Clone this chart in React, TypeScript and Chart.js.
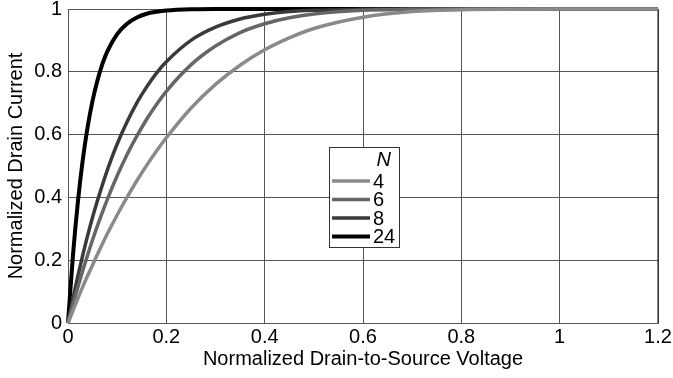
import React, { useEffect, useRef } from "react";
import { Chart, registerables } from "chart.js";

Chart.register(...registerables);

const xs = [0, 0.01, 0.02, 0.03, 0.04, 0.05, 0.06, 0.07, 0.08, 0.1, 0.12, 0.14, 0.16, 0.18, 0.2, 0.25, 0.3, 0.35, 0.4, 0.45, 0.5, 0.6, 0.7, 0.8, 1.0, 1.2];
const n4 = [0, 0.039, 0.078, 0.115, 0.151, 0.185, 0.219, 0.252, 0.284, 0.344, 0.4, 0.453, 0.502, 0.548, 0.59, 0.684, 0.76, 0.821, 0.87, 0.908, 0.938, 0.974, 0.992, 0.998, 1, 1];
const n6 = [0, 0.059, 0.114, 0.167, 0.217, 0.265, 0.31, 0.353, 0.394, 0.469, 0.536, 0.595, 0.649, 0.696, 0.738, 0.822, 0.882, 0.925, 0.953, 0.972, 0.984, 0.996, 0.999, 1, 1, 1];
const n8 = [0, 0.077, 0.149, 0.216, 0.279, 0.337, 0.39, 0.44, 0.487, 0.57, 0.64, 0.701, 0.752, 0.796, 0.832, 0.9, 0.942, 0.968, 0.983, 0.992, 0.996, 0.999, 1, 1, 1, 1];
const n24 = [0, 0.214, 0.384, 0.519, 0.625, 0.708, 0.773, 0.825, 0.865, 0.92, 0.953, 0.973, 0.985, 0.991, 0.995, 0.999, 1, 1, 1, 1, 1, 1, 1, 1, 1, 1];

const seriesLabels = ["4", "6", "8", "24"];
const seriesValues = [n4, n6, n8, n24];
const seriesColors = ["#8a8a8a", "#666666", "#3a3a3a", "#000000"];
const seriesWidths = [3.5, 3.5, 3.5, 4];

const xTitle = "Normalized Drain-to-Source Voltage";
const yTitle = "Normalized Drain Current";
const legendTitle = "N";

const FONT = "'Liberation Sans', Arial, sans-serif";
const FS = 20;

const fmt = (v: number) => String(parseFloat(Number(v).toFixed(1)));

const legendPlugin = {
  id: "customLegend",
  afterDraw(chart: any) {
    const ctx = chart.ctx;
    ctx.save();
    const bx = 329.5, by = 147.5, bw = 70, bh = 100;
    ctx.fillStyle = "#ffffff";
    ctx.fillRect(bx, by, bw, bh);
    ctx.strokeStyle = "#333333";
    ctx.lineWidth = 1;
    ctx.strokeRect(bx, by, bw, bh);
    ctx.fillStyle = "#000";
    ctx.textBaseline = "middle";
    ctx.font = `italic ${FS}px ${FONT}`;
    ctx.textAlign = "right";
    ctx.fillText(legendTitle, 391, 160);
    ctx.textAlign = "left";
    ctx.font = `${FS}px ${FONT}`;
    const rows = [181, 199.5, 218, 236.5];
    seriesLabels.forEach((lab, i) => {
      ctx.strokeStyle = seriesColors[i];
      ctx.lineWidth = seriesWidths[i];
      ctx.beginPath();
      ctx.moveTo(332, rows[i]);
      ctx.lineTo(370, rows[i]);
      ctx.stroke();
      ctx.fillStyle = "#000";
      ctx.fillText(lab, 373, rows[i] + 1);
    });
    ctx.restore();
  },
};

const borderPlugin = {
  id: "rightBorder",
  beforeDatasetsDraw(chart: any) {
    const { ctx, chartArea } = chart;
    ctx.save();
    ctx.strokeStyle = "#111";
    ctx.lineWidth = 1;
    ctx.beginPath();
    ctx.moveTo(chartArea.right, chartArea.top);
    ctx.lineTo(chartArea.right, chartArea.bottom);
    ctx.stroke();
    ctx.restore();
  },
};

export default function App() {
  const ref = useRef<HTMLCanvasElement | null>(null);
  useEffect(() => {
    document.body.style.margin = "0";
    if (!ref.current) return;
    const datasets = seriesLabels.map((lab, i) => ({
      label: lab,
      data: xs.map((x, j) => ({ x, y: seriesValues[i][j] })),
      borderColor: seriesColors[i],
      backgroundColor: seriesColors[i],
      borderWidth: seriesWidths[i],
      pointRadius: 0,
      cubicInterpolationMode: "monotone" as const,
      clip: 5,
      fill: false,
    }));
    const chart = new Chart(ref.current, {
      type: "line",
      data: { datasets },
      options: {
        animation: false,
        responsive: false,
        layout: { padding: { left: 0, right: 15, top: 9, bottom: 0 } },
        plugins: { legend: { display: false }, tooltip: { enabled: false } },
        scales: {
          x: {
            type: "linear",
            min: 0,
            max: 1.2,
            ticks: {
              stepSize: 0.2,
              color: "#000",
              font: { family: FONT, size: FS },
              padding: 2,
              maxRotation: 0,
              callback: (v: any) => fmt(v),
            },
            grid: { color: "#555", lineWidth: 1, drawTicks: false, tickLength: 0 },
            border: { color: "#555" },
            title: {
              display: true,
              text: xTitle,
              color: "#000",
              font: { family: FONT, size: FS },
              padding: { top: 0, bottom: 7 },
            },
            afterFit: (s: any) => {
              s.height = 55;
              s.paddingLeft = 0;
              s.paddingRight = 0;
            },
          },
          y: {
            type: "linear",
            min: 0,
            max: 1,
            ticks: {
              stepSize: 0.2,
              color: "#000",
              font: { family: FONT, size: FS },
              padding: 6,
              callback: (v: any) => fmt(v),
            },
            grid: { color: "#555", lineWidth: 1, drawTicks: false, tickLength: 0 },
            border: { color: "#555" },
            title: {
              display: true,
              text: yTitle,
              color: "#000",
              font: { family: FONT, size: FS },
              padding: { top: 4, bottom: 0 },
            },
            afterFit: (s: any) => {
              s.width = 68;
              s.paddingTop = 0;
              s.paddingBottom = 0;
            },
          },
        },
      },
      plugins: [borderPlugin, legendPlugin],
    });
    return () => chart.destroy();
  }, []);
  return (
    <div style={{ width: 673, height: 378 }}>
      <canvas ref={ref} width={673} height={378} style={{ display: "block" }} />
    </div>
  );
}
